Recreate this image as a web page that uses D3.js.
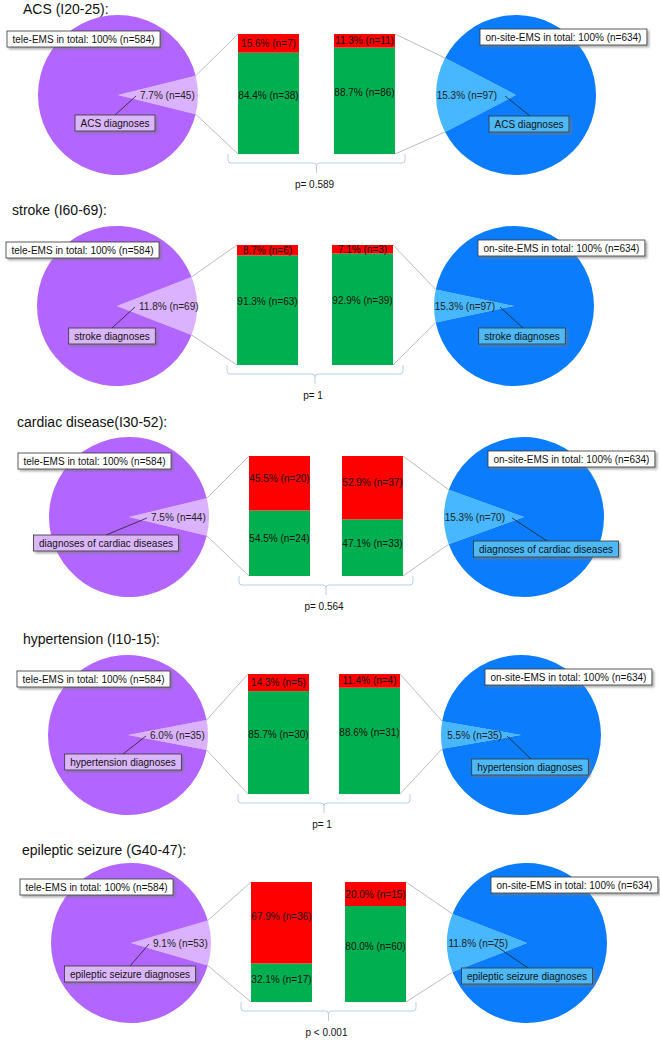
<!DOCTYPE html>
<html>
<head>
<meta charset="utf-8">
<script src="https://cdn.jsdelivr.net/npm/d3@7"></script>
<style>
  body { margin: 0; background: #fff; }
  text { font-family: "Liberation Sans", Arial, sans-serif; }
</style>
</head>
<body>
<svg id="chart" width="660" height="1040"></svg>
<script>
// data
var titles = ["ACS (I20-25):", "stroke (I60-69):", "cardiac disease(I30-52):", "hypertension (I10-15):", "epileptic seizure (G40-47):"];
var diagLabels = ["ACS diagnoses", "stroke diagnoses", "diagnoses of cardiac diseases", "hypertension diagnoses", "epileptic seizure diagnoses"];
var teleTotal = 584;
var onsiteTotal = 634;
var teleRed = [7, 6, 20, 5, 36];
var teleGreen = [38, 63, 24, 30, 17];
var onsiteRed = [11, 3, 37, 4, 15];
var onsiteGreen = [86, 39, 33, 31, 60];
var teleSliceLabels = ["7.7% (n=45)", "11.8% (n=69)", "7.5% (n=44)", "6.0% (n=35)", "9.1% (n=53)"];
var onsiteSliceLabels = ["15.3% (n=97)", "15.3% (n=97)", "15.3% (n=70)", "5.5% (n=35)", "11.8% (n=75)"];
var pLabels = ["p= 0.589", "p= 1", "p= 0.564", "p= 1", "p < 0.001"];

// where each panel sits in the picture
var layout = [
  {cy: 95,  lx: 118, rx: 516, tx: 23, ty: -81, lbox: -3,  lboxY: 20, rbox: 13, rboxY: 21, rlead: -11},
  {cy: 306, lx: 117, rx: 514, tx: 12, ty: -91, lbox: -5,  lboxY: 22, rbox: 8,  rboxY: 22, rlead: -14},
  {cy: 517, lx: 129, rx: 524, tx: 17, ty: -90, lbox: -23, lboxY: 18, rbox: 22, rboxY: 24, rlead: -12},
  {cy: 735, lx: 128, rx: 521, tx: 23, ty: -91, lbox: -5,  lboxY: 19, rbox: 9,  rboxY: 24, rlead: -14},
  {cy: 943, lx: 131, rx: 527, tx: 22, ty: -88, lbox: -1,  lboxY: 23, rbox: 0,  rboxY: 25, rlead: -34}
];

var R = 80, BW = 61, BH = 120;
var purple = ["#dab2ff", "#b266ff"];
var blue = ["#47b7ff", "#0b7dfc"];
var red = "#ff0000", green = "#00b050";

var svg = d3.select("#chart");

var f = svg.append("defs").append("filter").attr("id", "shadow")
  .attr("x", "-10%").attr("y", "-30%").attr("width", "130%").attr("height", "180%");
f.append("feDropShadow").attr("dx", 2).attr("dy", 2).attr("stdDeviation", 1.2)
  .attr("flood-color", "#777").attr("flood-opacity", 0.6);

var arc = d3.arc().innerRadius(0).outerRadius(R);
var fmt = d3.format(".1f");

function edge(cx, cy, a) {
  return [cx + R * Math.sin(a), cy - R * Math.cos(a)];
}

function drawPie(g, cx, cy, n, total, mid, colors) {
  var theta = 2 * Math.PI * n / total;
  var pie = d3.pie().sort(null)
    .startAngle(mid - theta / 2)
    .endAngle(mid - theta / 2 + 2 * Math.PI);
  var arcs = pie([n, total - n]);
  g.append("g")
    .attr("transform", "translate(" + cx + "," + cy + ")")
    .selectAll("path")
    .data(arcs)
    .join("path")
    .attr("d", arc)
    .attr("fill", function (d, i) { return colors[i]; });
  return arcs[0];
}

function drawBar(g, x, top, nRed, nGreen) {
  var total = nRed + nGreen;
  var y = d3.scaleLinear().domain([0, total]).range([top + BH, top]);
  var segs = [
    {v0: 0, v1: nGreen, n: nGreen, c: green},
    {v0: nGreen, v1: total, n: nRed, c: red}
  ];
  var bg = g.append("g");
  bg.selectAll("rect").data(segs).join("rect")
    .attr("x", x)
    .attr("y", function (d) { return y(d.v1); })
    .attr("width", BW)
    .attr("height", function (d) { return y(d.v0) - y(d.v1); })
    .attr("fill", function (d) { return d.c; });
  bg.selectAll("text").data(segs).join("text")
    .attr("x", x + BW / 2)
    .attr("y", function (d) {
      var h = y(d.v0) - y(d.v1);
      return y(d.v1) + h * (h > 30 ? 0.42 : 0.5);
    })
    .attr("text-anchor", "middle")
    .attr("dominant-baseline", "central")
    .attr("font-size", 10)
    .attr("fill", "#111")
    .text(function (d) { return fmt(d.n / total * 100) + "% (n=" + d.n + ")"; });
}

function labelBox(g, x, y, text, fill, centered) {
  var grp = g.append("g");
  var t = grp.append("text").attr("font-size", 10).attr("fill", "#111").text(text);
  var w = t.node().getComputedTextLength() + 11;
  var left = centered ? x - w / 2 : x;
  grp.insert("rect", "text")
    .attr("x", left).attr("y", y)
    .attr("width", w).attr("height", 16)
    .attr("fill", fill)
    .attr("stroke", "#333")
    .attr("stroke-width", 0.8)
    .attr("filter", "url(#shadow)");
  t.attr("x", left + w / 2).attr("y", y + 8.5)
    .attr("text-anchor", "middle")
    .attr("dominant-baseline", "central");
}

titles.forEach(function (title, i) {
  var L = layout[i];
  var g = svg.append("g");
  var cy = L.cy, top = cy - 61, bottom = top + BH;
  var b1 = L.lx + 120, b2 = L.rx - 182;
  var nTele = teleRed[i] + teleGreen[i];
  var nOn = onsiteRed[i] + onsiteGreen[i];

  g.append("text")
    .attr("x", L.tx).attr("y", cy + L.ty)
    .attr("font-size", 14)
    .attr("fill", "#111")
    .text(title);

  // pies
  var sl = drawPie(g, L.lx, cy, nTele, teleTotal, Math.PI / 2, purple);
  var sr = drawPie(g, L.rx, cy, nOn, onsiteTotal, 3 * Math.PI / 2, blue);

  // connector lines from slices to bars
  var links = [
    [edge(L.lx, cy, sl.startAngle), [b1, top]],
    [edge(L.lx, cy, sl.endAngle), [b1, bottom]],
    [edge(L.rx, cy, sr.endAngle), [b2 + BW, top]],
    [edge(L.rx, cy, sr.startAngle), [b2 + BW, bottom]]
  ];
  g.selectAll(null).data(links).join("line")
    .attr("x1", function (d) { return d[0][0]; })
    .attr("y1", function (d) { return d[0][1]; })
    .attr("x2", function (d) { return d[1][0]; })
    .attr("y2", function (d) { return d[1][1]; })
    .attr("stroke", "#b4b4b4")
    .attr("stroke-width", 0.9);

  drawBar(g, b1, top, teleRed[i], teleGreen[i]);
  drawBar(g, b2, top, onsiteRed[i], onsiteGreen[i]);

  // brace under the bars
  var x0 = b1 - 10, x1 = b2 + BW + 10, xm = (x0 + x1) / 2, yb = bottom;
  g.append("path")
    .attr("d", "M" + x0 + "," + yb + " L" + x0 + "," + (yb + 6) +
      " Q" + x0 + "," + (yb + 9) + " " + (x0 + 3) + "," + (yb + 9) +
      " L" + (xm - 3) + "," + (yb + 9) +
      " Q" + xm + "," + (yb + 9) + " " + xm + "," + (yb + 12) +
      " L" + xm + "," + (yb + 19) +
      " M" + xm + "," + (yb + 12) +
      " Q" + xm + "," + (yb + 9) + " " + (xm + 3) + "," + (yb + 9) +
      " L" + (x1 - 3) + "," + (yb + 9) +
      " Q" + x1 + "," + (yb + 9) + " " + x1 + "," + (yb + 6) +
      " L" + x1 + "," + yb)
    .attr("fill", "none")
    .attr("stroke", "#b7cfe5")
    .attr("stroke-width", 1);

  g.append("text")
    .attr("x", xm - 2).attr("y", yb + 30)
    .attr("text-anchor", "middle")
    .attr("dominant-baseline", "central")
    .attr("font-size", 10)
    .attr("fill", "#111")
    .text(pLabels[i]);

  // slice labels
  g.append("text")
    .attr("x", L.lx + 22).attr("y", cy)
    .attr("dominant-baseline", "central")
    .attr("font-size", 10).attr("fill", "#222")
    .text(teleSliceLabels[i]);
  g.append("text")
    .attr("x", L.rx - 19).attr("y", cy)
    .attr("text-anchor", "end")
    .attr("dominant-baseline", "central")
    .attr("font-size", 10).attr("fill", "#222")
    .text(onsiteSliceLabels[i]);

  // leader lines
  var lbx = L.lx + L.lbox, lby = cy + L.lboxY;
  var rbx = L.rx + L.rbox, rby = cy + L.rboxY;
  g.append("line")
    .attr("x1", L.lx + 18).attr("y1", cy + 1)
    .attr("x2", lbx).attr("y2", lby)
    .attr("stroke", "#222").attr("stroke-width", 0.8);
  g.append("line")
    .attr("x1", L.rx + L.rlead).attr("y1", cy + 1)
    .attr("x2", rbx + 1).attr("y2", rby)
    .attr("stroke", "#222").attr("stroke-width", 0.8);

  // boxes
  labelBox(g, L.lx - 111, cy - 64, "tele-EMS in total: 100% (n=" + teleTotal + ")", "#fff", false);
  labelBox(g, L.rx - 36, cy - 66, "on-site-EMS in total: 100% (n=" + onsiteTotal + ")", "#fff", false);
  labelBox(g, lbx, lby, diagLabels[i], "#dbb6fc", true);
  labelBox(g, rbx, rby, diagLabels[i], "#4db9f8", true);
});
</script>
</body>
</html>
